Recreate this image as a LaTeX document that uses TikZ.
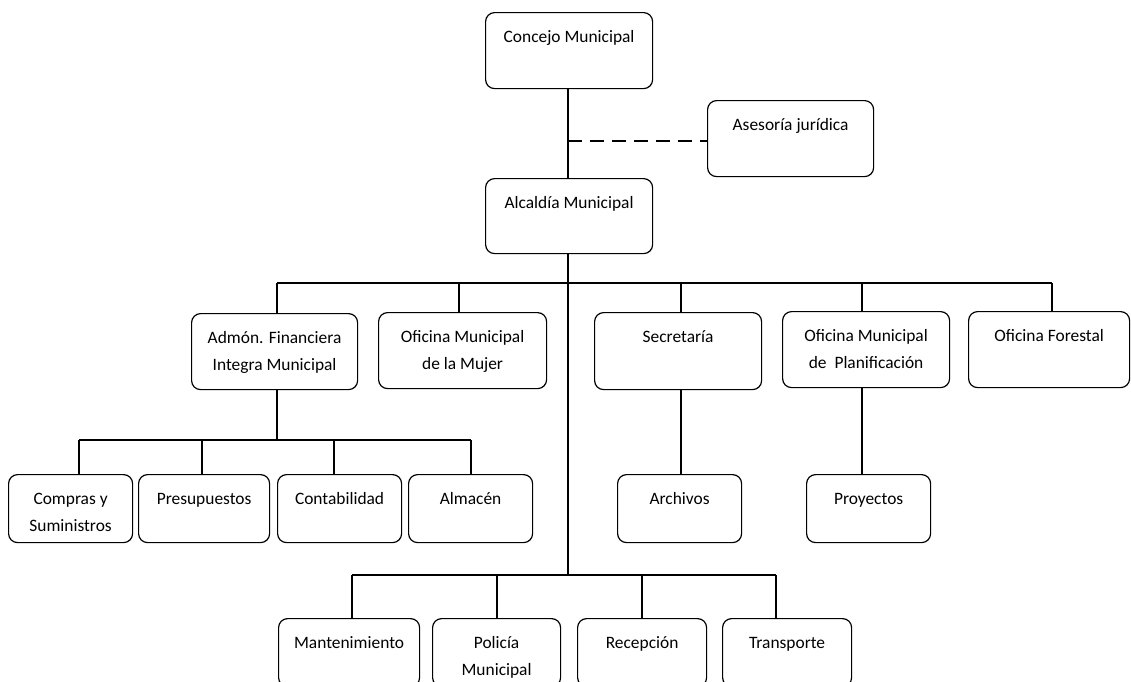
\documentclass[tikz,border=0pt]{standalone}
\usepackage{fontspec}
\setmainfont{Carlito}
\begin{document}
\begin{tikzpicture}[x=1pt,y=-1pt,
  orgbox/.style={draw, line width=1.2pt, rounded corners=9pt, inner sep=0pt, anchor=north west},
  lbl/.style={anchor=north, inner sep=0pt, align=center, font=\fontsize{17.4}{27}\selectfont},
  conn/.style={line width=1.8pt},
  dconn/.style={line width=1.8pt, dash pattern=on 14pt off 8pt}]
\useasboundingbox (0,0) rectangle (1131,681);
\clip (0,0) rectangle (1131,681);
\newcommand\orgnode[6]{%
  \node[orgbox, minimum width=#4pt, minimum height=#5pt] (#1) at (#2,#3) {};
  \node[lbl] (#1-t) at ([yshift=-11pt]#1.north) {\strut #6};}
% boxes
\orgnode{concejo}{485}{12}{167}{76}{Concejo Municipal}
\orgnode{asesoria}{707}{100}{166}{76}{Asesoría jurídica}
\orgnode{alcaldia}{485}{178}{167}{75}{Alcaldía Municipal}
\orgnode{admon}{191}{313}{166}{76}{Admón. Financiera\\Integra Municipal}
\orgnode{mujer}{378}{312}{168}{76}{Oficina Municipal\\de la Mujer}
\orgnode{secretaria}{594}{312}{167}{77}{Secretaría}
\orgnode{planif}{782}{311}{167}{76}{Oficina Municipal\\de~~Planificación}
\orgnode{forestal}{968}{311}{161}{76}{Oficina Forestal}
\orgnode{compras}{8}{474}{124}{68}{Compras y\\Suministros}
\orgnode{presup}{138}{474}{131}{68}{Presupuestos}
\orgnode{contab}{277}{474}{124}{68}{Contabilidad}
\orgnode{almacen}{408}{474}{124}{68}{Almacén}
\orgnode{archivos}{617}{474}{124}{68}{Archivos}
\orgnode{proyectos}{806}{474}{124}{68}{Proyectos}
\orgnode{mant}{278}{618}{141}{68}{Mantenimiento}
\orgnode{policia}{432}{618}{128}{68}{Policía\\Municipal}
\orgnode{recepcion}{577}{618}{129}{68}{Recepción}
\orgnode{transporte}{722}{618}{129}{68}{Transporte}
% bus coordinates
\coordinate (dj) at (568,141);
\coordinate (b2L) at (277,283);
\coordinate (b2Mu) at (459,283);
\coordinate (b2S) at (681,283);
\coordinate (b2P) at (862,283);
\coordinate (b2R) at (1052,283);
\coordinate (b3L) at (79,440);
\coordinate (b3P) at (202,440);
\coordinate (b3C) at (334,440);
\coordinate (b3R) at (471,440);
\coordinate (b4L) at (352,575);
\coordinate (b4P) at (497,575);
\coordinate (b4Re) at (642,575);
\coordinate (b4R) at (776,575);
\coordinate (mainEnd) at (568,575);
% connectors
\draw[conn] (concejo.south -| dj) -- (alcaldia.north -| dj);
\draw[dconn] (dj) -- (dj -| asesoria.west);
\draw[conn] (alcaldia.south -| mainEnd) -- (mainEnd);
\draw[conn] (b2L) -- (b2R);
\draw[conn] (b2L) -- (b2L |- admon.north);
\draw[conn] (b2Mu) -- (b2Mu |- mujer.north);
\draw[conn] (b2S) -- (b2S |- secretaria.north);
\draw[conn] (b2P) -- (b2P |- planif.north);
\draw[conn] (b2R) -- (b2R |- forestal.north);
\draw[conn] (admon.south -| b2L) -- (b2L |- b3L);
\draw[conn] (b3L) -- (b3R);
\draw[conn] (b3L) -- (b3L |- compras.north);
\draw[conn] (b3P) -- (b3P |- presup.north);
\draw[conn] (b3C) -- (b3C |- contab.north);
\draw[conn] (b3R) -- (b3R |- almacen.north);
\draw[conn] (secretaria.south -| b2S) -- (archivos.north -| b2S);
\draw[conn] (planif.south -| b2P) -- (proyectos.north -| b2P);
\draw[conn] (b4L) -- (b4R);
\draw[conn] (b4L) -- (b4L |- mant.north);
\draw[conn] (b4P) -- (b4P |- policia.north);
\draw[conn] (b4Re) -- (b4Re |- recepcion.north);
\draw[conn] (b4R) -- (b4R |- transporte.north);
\end{tikzpicture}
\end{document}
